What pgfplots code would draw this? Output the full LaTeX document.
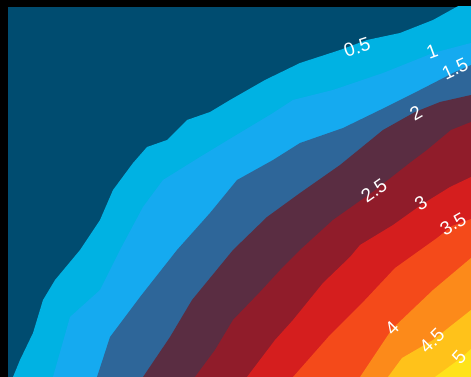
\documentclass[border=0pt]{standalone}
\usepackage{pgfplots}
\pgfplotsset{compat=1.18}
\usepackage{fontspec}
\setmainfont{Liberation Sans}
\definecolor{c0}{HTML}{004C70}
\definecolor{c1}{HTML}{00B2E3}
\definecolor{c2}{HTML}{15AAF0}
\definecolor{c3}{HTML}{2E6699}
\definecolor{c4}{HTML}{5A2D42}
\definecolor{c5}{HTML}{901C2A}
\definecolor{c6}{HTML}{D51E1E}
\definecolor{c7}{HTML}{F44A1A}
\definecolor{c8}{HTML}{FC8A1A}
\definecolor{c9}{HTML}{FFC21A}
\definecolor{c10}{HTML}{FFE31A}
\begin{document}
\begin{tikzpicture}
\fill[black] (-8pt,0) rectangle (463pt,377pt);
\begin{axis}[at={(0,0)},anchor=south west,scale only axis,width=463pt,height=370pt,
  xmin=8,xmax=471,ymin=7,ymax=377,y dir=reverse,hide axis,
  axis background/.style={fill=c0}]
% level 0.5
\addplot[fill=c1,draw=none] coordinates {(13,380) (13,377) (20,360) (33,333) (43,300) (55,280) (80,250) (100,220) (113,190) (133,163) (147,147) (167,140) (187,120) (210,112) (230,100) (265,80) (300,63) (340,50) (367,40) (400,33) (433,20) (460,5) (480,5) (480,385) (13,385)} -- cycle;
% level 1
\addplot[fill=c2,draw=none] coordinates {(53,385) (53,377) (70,317) (100,290) (120,250) (143,207) (163,180) (200,157) (233,137) (273,113) (293,100) (333,90) (383,73) (433,53) (471,43) (480,41) (480,385)} -- cycle;
% level 1.5
\addplot[fill=c3,draw=none] coordinates {(97,385) (97,377) (110,337) (140,297) (177,250) (210,213) (237,180) (273,160) (300,143) (343,128) (380,110) (420,90) (455,72) (471,65) (480,63) (480,385)} -- cycle;
% level 2
\addplot[fill=c4,draw=none] coordinates {(143,385) (143,377) (170,337) (192,300) (233,250) (267,217) (300,193) (340,165) (383,130) (415,112) (440,102) (471,95) (480,93) (480,385)} -- cycle;
% level 2.5
\addplot[fill=c5,draw=none] coordinates {(195,385) (195,377) (215,350) (233,320) (260,292) (283,267) (300,250) (333,220) (374,191) (411,162) (427,150) (451,130) (471,122) (480,120) (480,385)} -- cycle;
% level 3
\addplot[fill=c6,draw=none] coordinates {(247,385) (247,377) (275,340) (293,320) (323,283) (350,257) (360,245) (393,225) (421,205) (450,187) (471,177) (480,173) (480,385)} -- cycle;
% level 3.5
\addplot[fill=c7,draw=none] coordinates {(293,385) (293,377) (330,335) (365,300) (395,268) (437,238) (452,226) (471,219) (480,216) (480,385)} -- cycle;
% level 4
\addplot[fill=c8,draw=none] coordinates {(360,385) (360,377) (392,329) (433,290) (471,258) (480,250) (480,385)} -- cycle;
% level 4.5
\addplot[fill=c9,draw=none] coordinates {(388,385) (388,377) (402,358) (433,340) (471,310) (480,302) (480,385)} -- cycle;
% level 5
\addplot[fill=c10,draw=none] coordinates {(435,385) (435,377) (461,358) (471,349) (480,342) (480,385)} -- cycle;
\begin{scope}[every node/.style={text=white,font=\fontsize{19}{19}\selectfont,inner sep=0pt}]
\node[rotate=18] at (axis cs:357,47) {0.5};
\node[rotate=20] at (axis cs:432,52) {1};
\node[rotate=25] at (axis cs:455,69) {1.5};
\node[rotate=30] at (axis cs:416,113) {2};
\node[rotate=35] at (axis cs:374,191) {2.5};
\node[rotate=32] at (axis cs:421,203) {3};
\node[rotate=30] at (axis cs:453,224) {3.5};
\node[rotate=45] at (axis cs:392,328) {4};
\node[rotate=45] at (axis cs:432,341) {4.5};
\node[rotate=48] at (axis cs:459,357) {5};
\end{scope}
\end{axis}
\pgfresetboundingbox
\path (-8pt,0) rectangle (463pt,377pt);
\end{tikzpicture}
\end{document}
